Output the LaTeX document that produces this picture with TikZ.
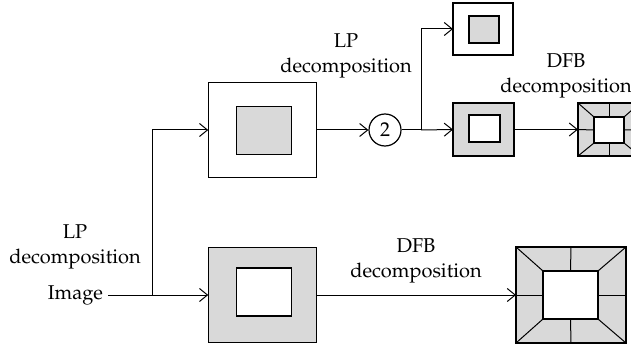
\documentclass[tikz,border=0pt]{standalone}
\usepackage[T1]{fontenc}
\renewcommand{\rmdefault}{ppl}
\usetikzlibrary{arrows.meta}
\definecolor{boxgray}{RGB}{217,217,217}
\begin{document}
\begin{tikzpicture}[x=0.5pt,y=-0.5pt, font=\fontsize{10}{12.5}\selectfont,
  box/.style={draw=black, line width=0.6pt, inner sep=0pt, outer sep=0pt},
  gbox/.style={box, fill=boxgray},
  wbox/.style={box, fill=white},
  arr/.style={line width=0.5pt, -{Straight Barb[length=4pt,width=6.5pt]}},
  ln/.style={line width=0.5pt},
  lbl/.style={align=center, inner sep=0pt}]
\clip (0,0) rectangle (631,347);
% labels
\node[lbl, anchor=east, outer sep=2.5pt] (img) at (108,295) {Image};
\node[lbl] (lp1) at (75,247) {LP\\decomposition};
\node[lbl] (lp2) at (346,56) {LP\\decomposition};
\node[lbl] (dfb1) at (566,76) {DFB\\decomposition};
\node[lbl] (dfb2) at (416,261) {DFB\\decomposition};
% boxes
\node[wbox, minimum width=54.25pt, minimum height=47.5pt] (a1) at (262.5,130) {};
\node[gbox, minimum width=27.5pt, minimum height=24pt] (a1i) at (264,130.5) {};
\node[gbox, minimum width=54.25pt, minimum height=47.5pt] (b1) at (262.5,295) {};
\node[wbox, minimum width=27.5pt, minimum height=24pt] (b1i) at (264,292) {};
\node[wbox, minimum width=30pt, minimum height=26pt] (t1) at (483,29) {};
\node[gbox, minimum width=15pt, minimum height=13.5pt] (t1i) at (484,29.5) {};
\node[gbox, minimum width=30.5pt, minimum height=26.5pt] (m1) at (483.5,129.5) {};
\node[wbox, minimum width=15.5pt, minimum height=13.5pt] (m1i) at (484.5,128.5) {};
\node[gbox, minimum width=31pt, minimum height=26.5pt] (d1) at (609,129.5) {};
\node[wbox, minimum width=15pt, minimum height=13pt] (d1i) at (609,130) {};
\node[gbox, minimum width=55pt, minimum height=48pt] (d2) at (571,295) {};
\node[wbox, minimum width=27.5pt, minimum height=24pt] (d2i) at (570.5,295) {};
\foreach \a in {north west,north east,south west,south east,north,south,east,west}{
  \draw[ln] (d1.\a) -- (d1i.\a);
  \draw[ln] (d2.\a) -- (d2i.\a);
}
% circle
\node[circle, draw, line width=0.6pt, minimum size=16pt, inner sep=0pt] (c2) at (385,130) {2};
% connectors
\coordinate (j1) at (152,295);
\coordinate (j2) at (421,130);
\draw[arr] (img.east) -- (b1.west);
\draw[arr] (j1) |- (a1.west);
\draw[arr] (a1.east) -- (c2.west);
\draw[ln] (c2.east) -- (j2);
\draw[arr] (j2) -- (m1.west);
\draw[arr] (j2) |- (t1.west);
\draw[arr] (m1.east) -- (d1.west);
\draw[arr] (b1.east) -- (d2.west);
\end{tikzpicture}
\end{document}
